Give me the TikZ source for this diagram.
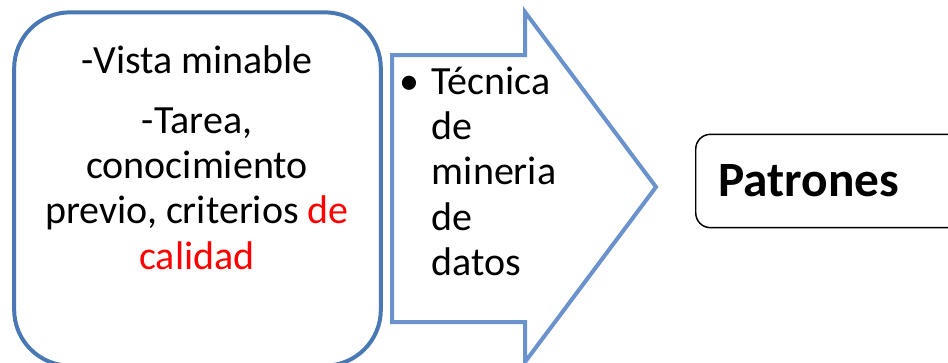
\documentclass[tikz,border=0pt]{standalone}
\usepackage{fontspec}
\setmainfont{Carlito}
\usepackage{xcolor}
\usetikzlibrary{positioning}
\definecolor{azul}{RGB}{74,120,180}
\definecolor{azulclaro}{RGB}{106,146,204}

\begin{document}
\begin{tikzpicture}[x=0.75pt,y=-0.75pt]
    % marco
    \clip (0,0) rectangle (948,362);

    % caja de entrada
    \node[draw=azul, line width=3pt, rounded corners=42pt, minimum width=275pt, minimum height=265pt, inner sep=0pt] (entrada) at (197.5,189) {};
    \node[anchor=north, align=center, inner sep=0pt, font=\fontsize{30}{34}\selectfont] (datosent) at (197,45)
        {-Vista minable\\[11pt]-Tarea,\\conocimiento\\previo, criterios \textcolor{red}{de}\\\textcolor{red}{calidad}};

    % flecha
    \draw[draw=azulclaro, line width=3pt] (392,55) -- (525,55) -- (525,12) -- (656,187) -- (525,362) -- (525,322) -- (392,322) -- cycle;
    \node[anchor=north west, inner sep=0pt, font=\fontsize{30}{34}\selectfont] (tecnica) at (399,62)
        {\begin{tabular}{@{}l@{}l@{}}\makebox[24.5pt][l]{\textbullet} & Técnica\\ & de\\ & mineria\\ & de\\ & datos\end{tabular}};

    % salida
    \node[draw, line width=1.1pt, rounded corners=11pt, anchor=west, minimum height=70pt, text width=165pt, inner xsep=17pt, align=left, font=\bfseries\fontsize{37}{41}\selectfont] (patrones) at (695,181) {Patrones};
\end{tikzpicture}
\end{document}
